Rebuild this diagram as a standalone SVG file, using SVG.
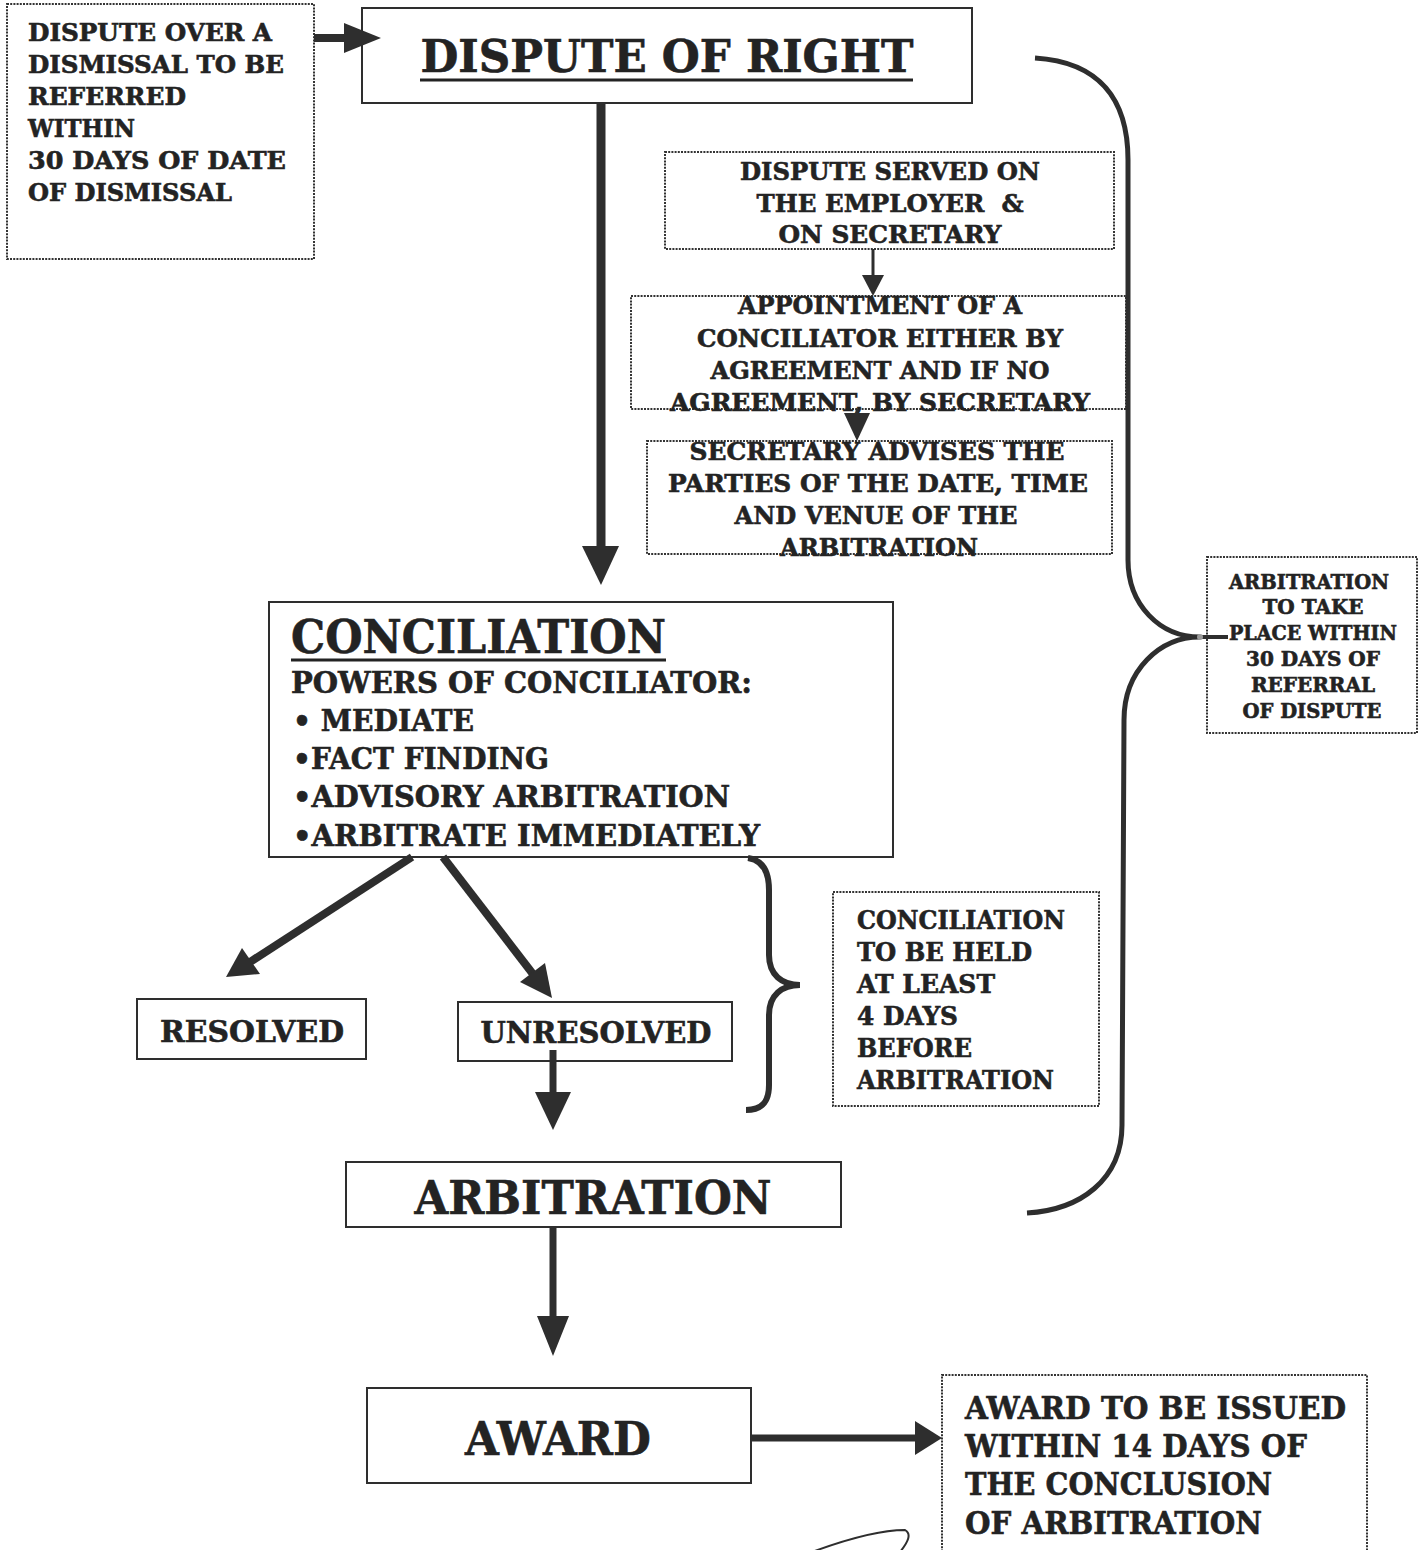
<svg xmlns="http://www.w3.org/2000/svg" width="1428" height="1550" viewBox="0 0 1428 1550">
<style>
.t{font-family:"DejaVu Serif","Liberation Serif",serif;font-weight:bold;fill:#232323;stroke:#232323;stroke-width:0.6}
.c{text-anchor:middle}
.dot{fill:#fff;stroke:#333;stroke-width:2;stroke-dasharray:2 1.2}
.sol{fill:#fff;stroke:#2e2e2e;stroke-width:2}
.ln{stroke:#2e2e2e;fill:none}
.hd{fill:#2e2e2e}
</style>
<rect width="1428" height="1550" fill="#fff"/>

<g id="n-dismissal">
  <rect class="dot" x="7" y="4" width="307" height="255"/>
  <text class="t" font-size="24" x="28" y="41" textLength="244" lengthAdjust="spacingAndGlyphs">DISPUTE OVER A</text>
  <text class="t" font-size="24" x="28" y="73" textLength="256" lengthAdjust="spacingAndGlyphs">DISMISSAL TO BE</text>
  <text class="t" font-size="24" x="28" y="105" textLength="158" lengthAdjust="spacingAndGlyphs">REFERRED</text>
  <text class="t" font-size="24" x="28" y="137" textLength="107" lengthAdjust="spacingAndGlyphs">WITHIN</text>
  <text class="t" font-size="24" x="28" y="169" textLength="258" lengthAdjust="spacingAndGlyphs">30 DAYS OF DATE</text>
  <text class="t" font-size="24" x="28" y="201" textLength="204" lengthAdjust="spacingAndGlyphs">OF DISMISSAL</text>
</g>

<g id="n-dispute-of-right">
  <rect class="sol" x="362" y="8" width="610" height="95"/>
  <text class="t c" font-size="44" x="667" y="72" textLength="493" lengthAdjust="spacingAndGlyphs">DISPUTE OF RIGHT</text>
  <line x1="420" y1="80" x2="913" y2="80" stroke="#232323" stroke-width="3"/>
</g>

<g id="n-served">
  <rect class="dot" x="665" y="152" width="449" height="97"/>
  <text class="t c" font-size="25" x="890" y="180" textLength="300" lengthAdjust="spacingAndGlyphs">DISPUTE SERVED ON</text>
  <text class="t c" font-size="25" x="890" y="212" textLength="267" lengthAdjust="spacingAndGlyphs" xml:space="preserve">THE EMPLOYER  &amp;</text>
  <text class="t c" font-size="25" x="890" y="243" textLength="223" lengthAdjust="spacingAndGlyphs">ON SECRETARY</text>
</g>

<g id="n-appointment">
  <rect class="dot" x="631" y="296" width="495" height="113"/>
  <text class="t c" font-size="25" x="880" y="314" textLength="284" lengthAdjust="spacingAndGlyphs">APPOINTMENT OF A</text>
  <text class="t c" font-size="25" x="880" y="347" textLength="366" lengthAdjust="spacingAndGlyphs">CONCILIATOR EITHER BY</text>
  <text class="t c" font-size="25" x="880" y="379" textLength="339" lengthAdjust="spacingAndGlyphs">AGREEMENT AND IF NO</text>
  <text class="t c" font-size="25" x="880" y="411" textLength="420" lengthAdjust="spacingAndGlyphs">AGREEMENT, BY SECRETARY</text>
</g>

<g id="n-advises">
  <rect class="dot" x="647" y="441" width="465" height="113"/>
  <text class="t c" font-size="25" x="877" y="460" textLength="375" lengthAdjust="spacingAndGlyphs">SECRETARY ADVISES THE</text>
  <text class="t c" font-size="25" x="878" y="492" textLength="420" lengthAdjust="spacingAndGlyphs">PARTIES OF THE DATE, TIME</text>
  <text class="t c" font-size="25" x="876" y="524" textLength="283" lengthAdjust="spacingAndGlyphs">AND VENUE OF THE</text>
  <text class="t c" font-size="25" x="879" y="556" textLength="198" lengthAdjust="spacingAndGlyphs">ARBITRATION</text>
</g>

<g id="n-within-30">
  <rect class="dot" x="1207" y="557" width="210" height="176"/>
  <text class="t c" font-size="20" x="1309" y="589" textLength="160" lengthAdjust="spacingAndGlyphs">ARBITRATION</text>
  <text class="t c" font-size="20" x="1313" y="614" textLength="101" lengthAdjust="spacingAndGlyphs">TO TAKE</text>
  <text class="t c" font-size="20" x="1313" y="640" textLength="168" lengthAdjust="spacingAndGlyphs">PLACE WITHIN</text>
  <text class="t c" font-size="20" x="1313" y="666" textLength="134" lengthAdjust="spacingAndGlyphs">30 DAYS OF</text>
  <text class="t c" font-size="20" x="1313" y="692" textLength="124" lengthAdjust="spacingAndGlyphs">REFERRAL</text>
  <text class="t c" font-size="20" x="1312" y="718" textLength="139" lengthAdjust="spacingAndGlyphs">OF DISPUTE</text>
</g>

<g id="n-conciliation">
  <rect class="sol" x="269" y="602" width="624" height="255"/>
  <text class="t" font-size="47" x="291" y="653" textLength="375" lengthAdjust="spacingAndGlyphs">CONCILIATION</text>
  <line x1="291" y1="660" x2="666" y2="660" stroke="#232323" stroke-width="3"/>
  <text class="t" font-size="29" x="291" y="693" textLength="461" lengthAdjust="spacingAndGlyphs">POWERS OF CONCILIATOR:</text>
  <text class="t" font-size="29" x="293" y="731" textLength="181" lengthAdjust="spacingAndGlyphs">• MEDIATE</text>
  <text class="t" font-size="29" x="293" y="769" textLength="256" lengthAdjust="spacingAndGlyphs">•FACT FINDING</text>
  <text class="t" font-size="29" x="293" y="807" textLength="437" lengthAdjust="spacingAndGlyphs">•ADVISORY ARBITRATION</text>
  <text class="t" font-size="29" x="293" y="846" textLength="467" lengthAdjust="spacingAndGlyphs">•ARBITRATE IMMEDIATELY</text>
</g>

<g id="n-resolved">
  <rect class="sol" x="137" y="999" width="229" height="60"/>
  <text class="t c" font-size="30" x="252" y="1042" textLength="184" lengthAdjust="spacingAndGlyphs">RESOLVED</text>
</g>

<g id="n-unresolved">
  <rect class="sol" x="458" y="1002" width="274" height="59"/>
  <text class="t c" font-size="30" x="596" y="1043" textLength="231" lengthAdjust="spacingAndGlyphs">UNRESOLVED</text>
</g>

<g id="n-four-days">
  <rect class="dot" x="833" y="892" width="266" height="214"/>
  <text class="t" font-size="26" x="857" y="929" textLength="208" lengthAdjust="spacingAndGlyphs">CONCILIATION</text>
  <text class="t" font-size="26" x="857" y="961" textLength="175" lengthAdjust="spacingAndGlyphs">TO BE HELD</text>
  <text class="t" font-size="26" x="857" y="993" textLength="138" lengthAdjust="spacingAndGlyphs">AT LEAST</text>
  <text class="t" font-size="26" x="857" y="1025" textLength="101" lengthAdjust="spacingAndGlyphs">4 DAYS</text>
  <text class="t" font-size="26" x="857" y="1057" textLength="115" lengthAdjust="spacingAndGlyphs">BEFORE</text>
  <text class="t" font-size="26" x="857" y="1089" textLength="197" lengthAdjust="spacingAndGlyphs">ARBITRATION</text>
</g>

<g id="n-arbitration">
  <rect class="sol" x="346" y="1162" width="495" height="65"/>
  <text class="t c" font-size="46" x="593" y="1214" textLength="357" lengthAdjust="spacingAndGlyphs">ARBITRATION</text>
</g>

<g id="n-award">
  <rect class="sol" x="367" y="1388" width="384" height="95"/>
  <text class="t c" font-size="46" x="558" y="1455" textLength="186" lengthAdjust="spacingAndGlyphs">AWARD</text>
</g>

<g id="n-award-14">
  <rect class="dot" x="942" y="1375" width="425" height="180"/>
  <text class="t" font-size="32" x="965" y="1419" textLength="381" lengthAdjust="spacingAndGlyphs">AWARD TO BE ISSUED</text>
  <text class="t" font-size="32" x="965" y="1457" textLength="342" lengthAdjust="spacingAndGlyphs">WITHIN 14 DAYS OF</text>
  <text class="t" font-size="32" x="965" y="1495" textLength="307" lengthAdjust="spacingAndGlyphs">THE CONCLUSION</text>
  <text class="t" font-size="32" x="965" y="1534" textLength="297" lengthAdjust="spacingAndGlyphs">OF ARBITRATION</text>
</g>

<g id="connectors">
  <line class="ln" x1="314" y1="38" x2="350" y2="38" stroke-width="8"/>
  <polygon class="hd" points="344,23 381,38 344,53"/>
  <line class="ln" x1="601" y1="103" x2="601" y2="550" stroke-width="9"/>
  <polygon class="hd" points="582,546 601,585 619,546"/>
  <line class="ln" x1="873" y1="249" x2="873" y2="280" stroke-width="3"/>
  <polygon class="hd" points="862,275 873,296 884,275"/>
  <line class="ln" x1="857" y1="409" x2="857" y2="418" stroke-width="3"/>
  <polygon class="hd" points="844,413 857,441 870,413"/>
  <line class="ln" x1="412" y1="857" x2="250" y2="962" stroke-width="8"/>
  <polygon class="hd" points="226,977 260,974 242,948"/>
  <line class="ln" x1="443" y1="857" x2="536" y2="978" stroke-width="8"/>
  <polygon class="hd" points="552,998 545,963 520,982"/>
  <line class="ln" x1="553" y1="1050" x2="553" y2="1095" stroke-width="7"/>
  <polygon class="hd" points="535,1092 553,1130 571,1092"/>
  <line class="ln" x1="553" y1="1227" x2="553" y2="1320" stroke-width="7"/>
  <polygon class="hd" points="537,1316 553,1356 569,1316"/>
  <line class="ln" x1="751" y1="1438" x2="918" y2="1438" stroke-width="7"/>
  <polygon class="hd" points="915,1421 942,1438 915,1455"/>
  <path class="ln" stroke-width="5" d="M1035,58 C1100,62 1128,100 1128,160 L1128,560 C1128,605 1160,637 1200,637 C1160,637 1124,670 1124,720 L1122,1125 C1122,1180 1080,1210 1027,1213"/>
  <line class="ln" x1="1200" y1="637" x2="1228" y2="637" stroke-width="4"/>
  <circle cx="1200" cy="637" r="3" fill="#9a9a9a"/>
  <path class="ln" stroke-width="6" d="M748,858 C762,860 769,870 769,890 L769,955 C769,975 782,985 800,985 C782,985 769,995 769,1015 L769,1085 C769,1102 762,1110 746,1110"/>
  <path class="ln" stroke-width="2" d="M812,1552 C850,1538 880,1530 905,1530 C912,1534 908,1542 900,1552"/>
</g>
</svg>
